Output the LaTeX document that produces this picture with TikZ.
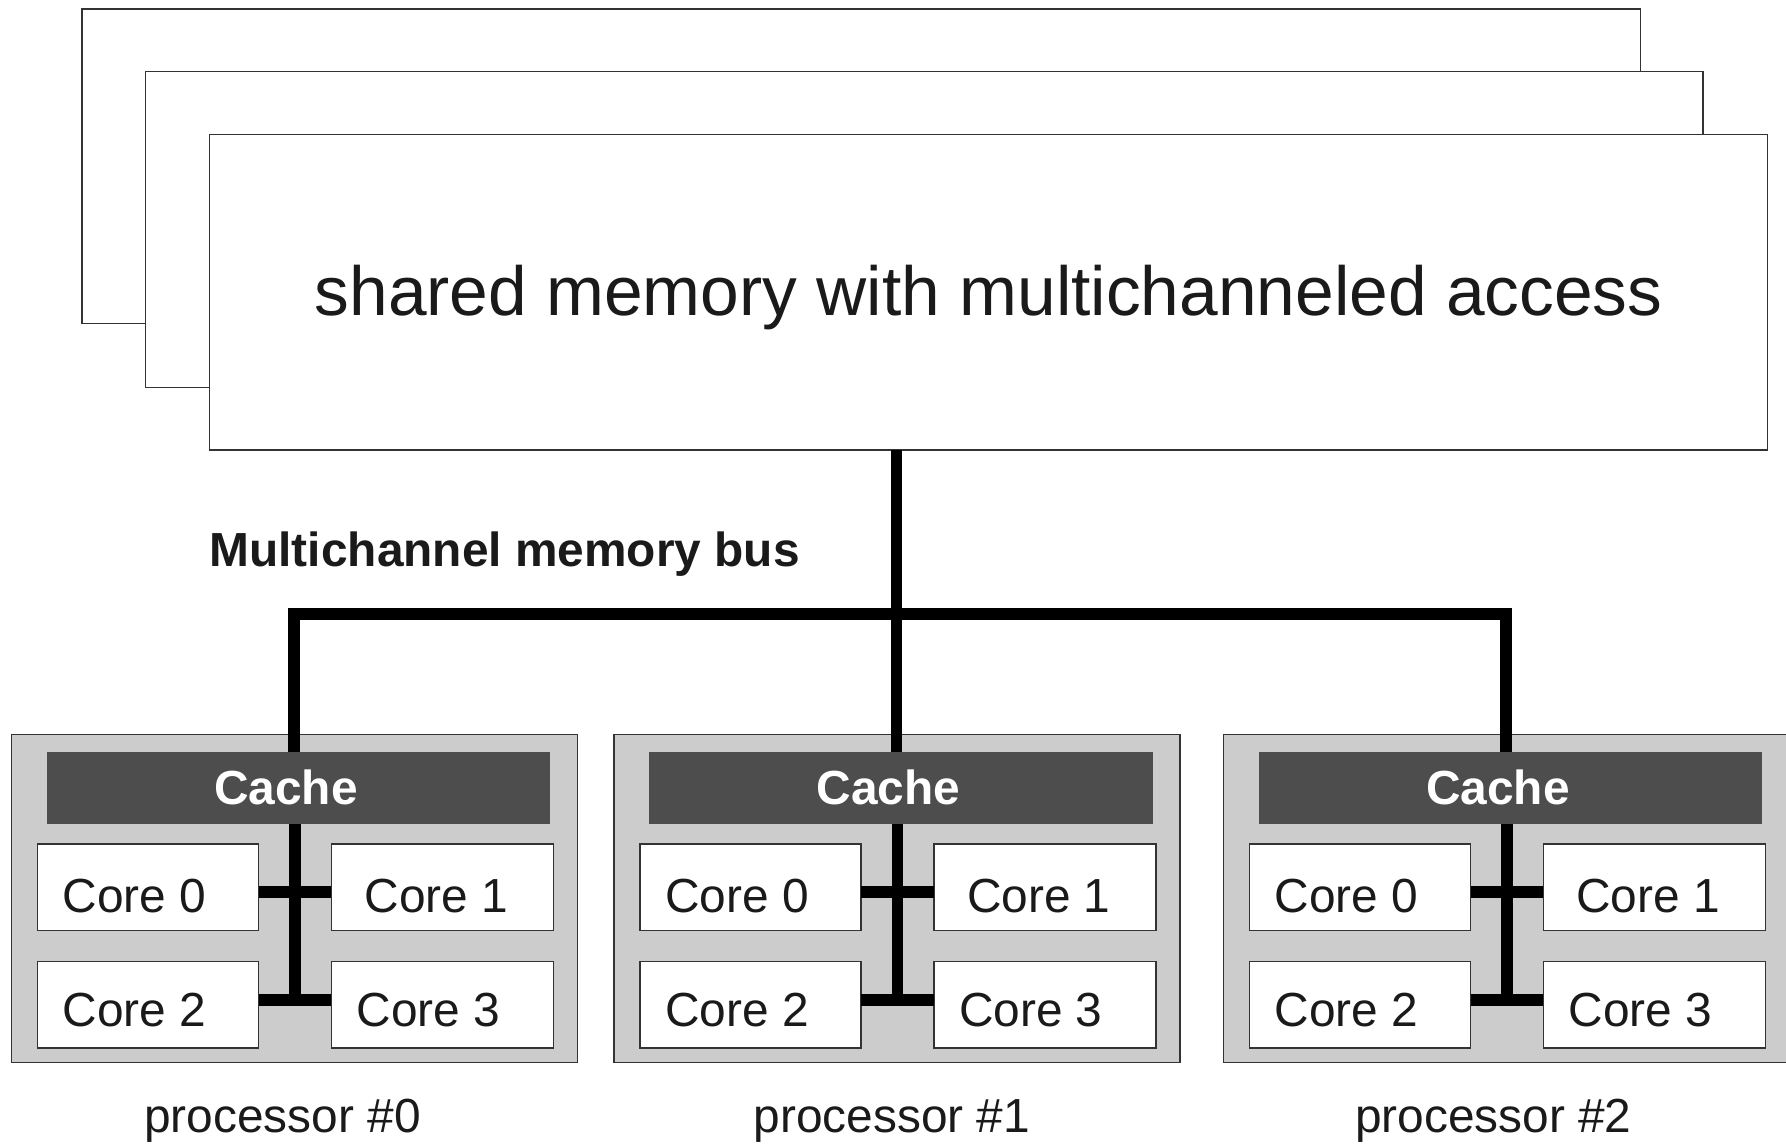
\documentclass[tikz,border=0pt]{standalone}
\usepackage{fontspec}
\setmainfont{Liberation Sans}
\definecolor{procgray}{HTML}{CCCCCC}
\definecolor{cachegray}{HTML}{4D4D4D}
\definecolor{ink}{HTML}{1A1A1A}
\definecolor{edge}{HTML}{333333}
% rectangle node spanning (x1,y1)-(x2,y2): name, style, x1, y1, x2, y2
\newcommand\boxat[6]{%
  \node[#2, minimum width={((#5)-(#3))*0.5pt}, minimum height={((#6)-(#4))*0.5pt}]
    (#1) at ({((#3)+(#5))/2},{((#4)+(#6))/2}) {};}
\tikzset{
  sheet/.style={draw=edge, fill=white, line width=0.6pt, inner sep=0pt, outer sep=0pt},
  procbox/.style={draw=edge, fill=procgray, line width=0.6pt, inner sep=0pt, outer sep=0pt},
  cachebar/.style={fill=cachegray, inner sep=0pt, outer sep=0pt},
  corebox/.style={draw=edge, fill=white, line width=0.6pt, inner sep=0pt, outer sep=0pt},
  bus/.style={line width=5.2pt, line join=miter, line cap=butt, draw=black},
  body/.style={text=ink, inner sep=0pt, outer sep=0pt, font=\fontsize{21pt}{25pt}\selectfont},
  boldbody/.style={text=ink, inner sep=0pt, outer sep=0pt, font=\fontsize{21pt}{25pt}\selectfont\bfseries},
  title/.style={text=ink, inner sep=0pt, outer sep=0pt, font=\fontsize{30.5pt}{36pt}\selectfont},
}
\begin{document}
\begin{tikzpicture}[x=0.5pt, y=-0.5pt]
\useasboundingbox (0,0) rectangle (1568,1004);

% stacked memory sheets
\boxat{memC}{sheet}{72}{8}{1440}{284}
\boxat{memB}{sheet}{128}{63}{1495}{340}
\boxat{mem}{sheet}{184}{118}{1552}{395}
\node[title, anchor=base] (memtext) at (868,277) {shared memory with multichanneled access};

% processors
\foreach \i/\o/\lx in {0/0/248,1/529/783,2/1064/1311}{
  \boxat{proc\i}{procbox}{\o+10}{645}{\o+507}{933}
  \boxat{cache\i}{cachebar}{\o+41}{660}{\o+483}{723}
  \node[boldbody, text=white, anchor=base] (cachetext\i) at (\o+251,706) {Cache};
  \boxat{core\i-0}{corebox}{\o+33}{741}{\o+227}{817}
  \boxat{core\i-1}{corebox}{\o+291}{741}{\o+486}{817}
  \boxat{core\i-2}{corebox}{\o+33}{844}{\o+227}{920}
  \boxat{core\i-3}{corebox}{\o+291}{844}{\o+486}{920}
  \node[body, anchor=base west] (t\i-0) at (\o+55,801) {Core 0};
  \node[body, anchor=base west] (t\i-1) at (\o+320,801) {Core 1};
  \node[body, anchor=base west] (t\i-2) at (\o+55,901) {Core 2};
  \node[body, anchor=base west] (t\i-3) at (\o+313,901) {Core 3};
  \node[body, anchor=base] (plabel\i) at (\lx,994) {processor \#\i};
  % internal bus to the cores
  \coordinate (hi\i) at (\o+259,783);
  \coordinate (lo\i) at (\o+259,878);
  \draw[bus] (cache\i.south -| hi\i) -- (lo\i);
  \draw[bus] (core\i-0.east |- hi\i) -- (core\i-1.west |- hi\i);
  \draw[bus] (core\i-2.east |- lo\i) -- (core\i-3.west |- lo\i);
}

% multichannel memory bus
\coordinate (trunk) at (787,539);
\coordinate (j0) at (258,539);
\coordinate (j2) at (1322,539);
\draw[bus] (mem.south -| trunk) -- (trunk |- cache1.north);
\draw[bus] (j0 |- cache0.north) -- (j0) -- (j2) -- (j2 |- cache2.north);
\node[boldbody, anchor=base west] (buslabel) at (184,497) {Multichannel memory bus};
\end{tikzpicture}
\end{document}
